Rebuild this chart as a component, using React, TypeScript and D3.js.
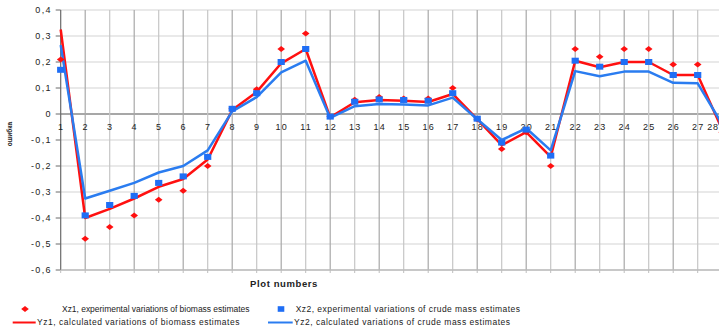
import React from "react";
import * as d3 from "d3";

const plots: number[] = d3.range(1, 29);

// Experimental variations (markers)
const xz1: number[] = [0.21, -0.48, -0.435, -0.39, -0.33, -0.295, -0.2, 0.02, 0.095, 0.25, 0.31, -0.01, 0.055, 0.065, 0.06, 0.06, 0.1, -0.02, -0.135, -0.07, -0.2, 0.25, 0.22, 0.25, 0.25, 0.19, 0.19, -0.07];
const xz2: number[] = [0.17, -0.39, -0.35, -0.315, -0.265, -0.24, -0.165, 0.02, 0.08, 0.2, 0.25, -0.01, 0.047, 0.056, 0.054, 0.051, 0.08, -0.018, -0.11, -0.06, -0.16, 0.205, 0.182, 0.2, 0.2, 0.15, 0.15, -0.03];

// Calculated variations (lines)
const yz1: number[] = [0.325, -0.4, -0.365, -0.325, -0.28, -0.25, -0.175, 0.015, 0.085, 0.195, 0.25, -0.013, 0.045, 0.054, 0.051, 0.046, 0.077, -0.02, -0.12, -0.07, -0.165, 0.205, 0.18, 0.2, 0.2, 0.15, 0.15, -0.06];
const yz2: number[] = [0.265, -0.325, -0.295, -0.265, -0.225, -0.2, -0.14, 0.01, 0.065, 0.16, 0.205, -0.015, 0.03, 0.038, 0.037, 0.033, 0.063, -0.02, -0.1, -0.055, -0.14, 0.165, 0.145, 0.163, 0.163, 0.12, 0.118, -0.04];

const yTicks: number[] = [0.4, 0.3, 0.2, 0.1, 0, -0.1, -0.2, -0.3, -0.4, -0.5, -0.6];

const legendItems = [
  { kind: "diamond", label: "Xz1, experimental variations of biomass estimates" },
  { kind: "square", label: "Xz2, experimental variations of crude mass estimates" },
  { kind: "redline", label: "Yz1, calculated variations of biomass estimates" },
  { kind: "blueline", label: "Yz2, calculated variations of crude mass estimates" },
];

const RED = "#ff1010";
const BLUE = "#2a7cf0";
const SQ = "#1f6ef5";
const FONT = "Arial, 'Liberation Sans', sans-serif";

const fmtTick = (t: number) =>
  t === 0 ? "0" : d3.format(".1f")(t).replace(".", ",").replace("−", "-");

export default function App() {
  const W = 719;
  const H = 330;
  const x = d3.scaleLinear().domain([1, 28]).range([60.7, 722.2]);
  const y = d3.scaleLinear().domain([-0.6, 0.4]).range([270, 10]);

  const line = d3
    .line<number>()
    .x((_, i) => x(plots[i]))
    .y((d) => y(d));

  const diamond = (cx: number, cy: number) =>
    `M${cx - 3.8},${cy} L${cx},${cy - 3} L${cx + 3.8},${cy} L${cx},${cy + 3} Z`;

  return (
    <svg
      width={W}
      height={H}
      style={{ position: "absolute", left: 0, top: 0, background: "#fff" }}
      fontFamily={FONT}
    >
      <defs>
        <clipPath id="plotClip">
          <rect x={0} y={0} width={W} height={275} />
        </clipPath>
      </defs>

      {/* horizontal grid */}
      {yTicks.map((t) => (
        <line
          key={`h${t}`}
          x1={x(1)}
          x2={W}
          y1={y(t)}
          y2={y(t)}
          stroke={t === 0 ? "#8a8a8a" : "#d4d4d4"}
          strokeWidth={t === 0 ? 1.3 : 1.2}
        />
      ))}
      {/* vertical grid */}
      {plots.slice(1).map((p) => (
        <line
          key={`v${p}`}
          x1={x(p)}
          x2={x(p)}
          y1={y(0.4)}
          y2={y(-0.6)}
          stroke={p % 2 === 0 ? "#a8a8a8" : "#c6c6c6"}
          strokeWidth={1.2}
        />
      ))}

      {/* y axis */}
      <line x1={x(1)} x2={x(1)} y1={y(0.4)} y2={y(-0.6)} stroke="#6a6a6a" strokeWidth={1.2} />
      {yTicks.map((t) => (
        <g key={`yt${t}`}>
          <line x1={x(1) - 5} x2={x(1)} y1={y(t)} y2={y(t)} stroke="#6a6a6a" />
          <text
            x={52}
            y={y(t)}
            dy="0.35em"
            textAnchor="end"
            fontSize={9}
            letterSpacing={1.4}
            fill="#222"
          >
            {fmtTick(t)}
          </text>
        </g>
      ))}

      {/* bottom axis */}
      <line x1={x(1)} x2={W} y1={y(-0.6)} y2={y(-0.6)} stroke="#bdbdbd" strokeWidth={1.4} />
      {plots.map((p) => (
        <line key={`bt${p}`} x1={x(p)} x2={x(p)} y1={y(-0.6)} y2={y(-0.6) + 3} stroke="#bdbdbd" />
      ))}

      {/* category labels along the zero line */}
      {plots.map((p) => {
        const last = x(p) + 6 > W;
        return (
          <text
            key={`xl${p}`}
            x={last ? W - 0.5 : x(p) + 0.5}
            y={127}
            dy="0.35em"
            textAnchor={last ? "end" : "middle"}
            fontSize={9}
            letterSpacing={last ? 0.6 : 1.2}
            fill="#222"
          >
            {p}
          </text>
        );
      })}

      <g clipPath="url(#plotClip)">
        <path d={line(yz1) ?? ""} fill="none" stroke={RED} strokeWidth={2.5} strokeLinejoin="round" />
        <path d={line(yz2) ?? ""} fill="none" stroke={BLUE} strokeWidth={2.5} strokeLinejoin="round" />
        {xz1.map((v, i) => (
          <path key={`d${i}`} d={diamond(x(plots[i]), y(v))} fill={RED} />
        ))}
        {xz2.map((v, i) => (
          <rect
            key={`s${i}`}
            x={x(plots[i]) - 3.6}
            y={y(v) - 3}
            width={7.2}
            height={6}
            fill={SQ}
          />
        ))}
      </g>

      {/* axis titles */}
      <text
        transform={`translate(12,${134}) rotate(-90)`}
        textAnchor="middle"
        fontSize={6.5}
        fontWeight="bold"
        fill="#222"
      >
        ошибка
      </text>
      <text x={284} y={284} dy="0.35em" textAnchor="middle" fontSize={9.5} fontWeight="bold" letterSpacing={0.6} fill="#222">
        Plot numbers
      </text>

      {/* legend */}
      {legendItems.map((it, i) => {
        const col = i % 2;
        const row = Math.floor(i / 2);
        const yy = row === 0 ? 309 : 322.5;
        const markX = col === 0 ? 25 : 281;
        let textX: number;
        let endX: number;
        if (row === 0) {
          textX = col === 0 ? 62 : 295.7;
          endX = col === 0 ? 249.5 : 520;
        } else {
          textX = col === 0 ? 37 : 294;
          endX = col === 0 ? 239.5 : 510;
        }
        return (
          <g key={it.label}>
            {it.kind === "diamond" && <path d={diamond(markX, yy)} fill={RED} />}
            {it.kind === "square" && <rect x={markX - 3.3} y={yy - 2.8} width={6.6} height={5.6} fill={SQ} />}
            {it.kind === "redline" && <line x1={12.7} x2={35.7} y1={yy} y2={yy} stroke={RED} strokeWidth={2} />}
            {it.kind === "blueline" && <line x1={268} x2={292.7} y1={yy} y2={yy} stroke={BLUE} strokeWidth={2} />}
            <text
              x={textX}
              y={yy}
              dy="0.35em"
              fontSize={8.5}
              fill="#222"
              textLength={endX - textX}
              lengthAdjust="spacing"
            >
              {it.label}
            </text>
          </g>
        );
      })}
    </svg>
  );
}
